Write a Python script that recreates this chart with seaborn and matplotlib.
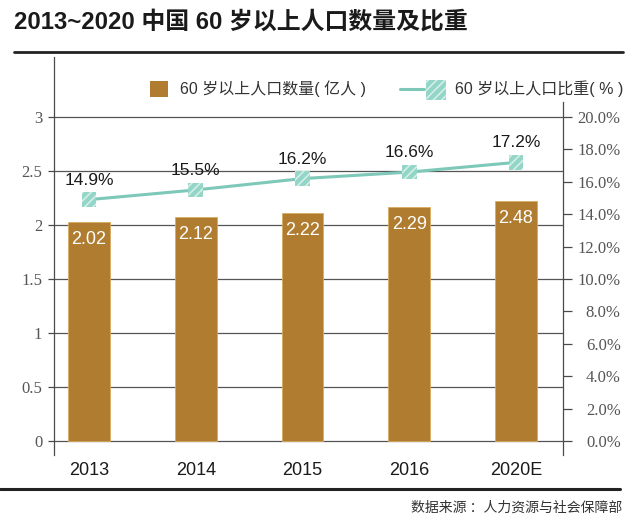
import numpy as np
import pandas as pd
import matplotlib
matplotlib.use("Agg")
import matplotlib.pyplot as plt
import seaborn as sns
from matplotlib.patches import Patch
from matplotlib.lines import Line2D
from matplotlib.legend_handler import HandlerTuple

# ---------------- data ----------------
years = ["2013", "2014", "2015", "2016", "2020E"]
bar_heights = [2.03, 2.07, 2.11, 2.17, 2.22]          # drawn bar heights (亿人)
bar_labels = ["2.02", "2.12", "2.22", "2.29", "2.48"]  # printed labels
share_pct = [14.9, 15.5, 16.2, 16.6, 17.2]            # 比重 (%)
share_labels = ["14.9%", "15.5%", "16.2%", "16.6%", "17.2%"]
left_ticks = [0, 0.5, 1, 1.5, 2, 2.5, 3]
left_tick_labels = ["0", "0.5", "1", "1.5", "2", "2.5", "3"]
right_ticks = [0, 2, 4, 6, 8, 10, 12, 14, 16, 18, 20]
right_tick_labels = ["0.0%", "2.0%", "4.0%", "6.0%", "8.0%", "10.0%",
                     "12.0%", "14.0%", "16.0%", "18.0%", "20.0%"]
title = "2013~2020 中国 60 岁以上人口数量及比重"
legend_bar = "60 岁以上人口数量( 亿人 )"
legend_line = "60 岁以上人口比重( % )"
source = "数据来源 ：人力资源与社会保障部"

bar_color = "#AF7C30"
line_color = "#7DC8B9"
marker_color = "#93D5C7"
axis_color = "#4a4a4a"

sns.set_theme(style="white")
plt.rcParams["font.family"] = ["Liberation Sans", "Noto Sans CJK SC", "DejaVu Sans"]
plt.rcParams["hatch.linewidth"] = 1.2

fig = plt.figure(figsize=(6.4, 5.28), dpi=100)
fig.patch.set_facecolor("white")
ax = fig.add_axes([54 / 640, 1 - 455 / 528, (563 - 54) / 640, (455 - 57) / 528])

df = pd.DataFrame({"year": years, "count": bar_heights})
sns.barplot(data=df, x="year", y="count", color=bar_color, saturation=1,
            width=0.39, ax=ax, edgecolor="#D8AC62", linewidth=0.6, zorder=2)

ymin, ymax = -0.13, 3.556
ax.set_xlim(-0.328, 4.44)
ax.set_ylim(ymin, ymax)
ax.set_xlabel("")
ax.set_ylabel("")
ax.set_yticks(left_ticks)
ax.set_yticklabels(left_tick_labels, fontfamily="Liberation Serif", fontsize=12, color="#555555")
ax.tick_params(axis="y", length=4.5, width=0.9, color=axis_color, pad=4, left=True)
ax.tick_params(axis="x", length=0, pad=5, labelsize=13, labelcolor="#1a1a1a")
ax.grid(axis="y", color="#555555", linewidth=0.9)
ax.grid(axis="x", visible=False)
ax.set_axisbelow(True)
for s in ["top", "bottom", "right"]:
    ax.spines[s].set_visible(False)
ax.spines["left"].set_color(axis_color)
ax.spines["left"].set_linewidth(0.9)

for i, (h, lab) in enumerate(zip(bar_heights, bar_labels)):
    ax.annotate(lab, (i, h), xytext=(0, -12.5), textcoords="offset points",
                ha="center", va="center", color="white", fontsize=13, zorder=5)

# ---------------- secondary axis ----------------
ax2 = ax.twinx()
pos = np.arange(len(years))
sns.lineplot(x=pos, y=share_pct, ax=ax2, color=line_color, linewidth=2.2, zorder=3)
sc = ax2.scatter(pos, share_pct, marker="s", s=110, facecolor=marker_color,
                 edgecolor="#D2F0E9", linewidth=0, hatch="////", zorder=4)
ax2.set_ylim(ymin * 20 / 3, ymax * 20 / 3)
ax2.set_xlim(-0.328, 4.44)
ax2.set_yticks(right_ticks)
ax2.set_yticklabels(right_tick_labels, fontfamily="Liberation Serif", fontsize=12,
                    color="#555555", ha="right")
ax2.tick_params(axis="y", length=6.5, width=0.9, color=axis_color, pad=35, right=True)
ax2.set_ylabel("")
for s in ["top", "bottom", "left"]:
    ax2.spines[s].set_visible(False)
ax2.spines["right"].set_color(axis_color)
ax2.spines["right"].set_linewidth(0.9)
ax2.spines["right"].set_bounds(ymin * 20 / 3, 20.9)
ax2.grid(False)

for i, (p, lab) in enumerate(zip(share_pct, share_labels)):
    ax2.annotate(lab, (i, p), xytext=(0, 14), textcoords="offset points",
                 ha="center", va="center", color="#1a1a1a", fontsize=12.5, zorder=5)

# ---------------- legends ----------------
ly = 1 - 89 / 528
leg1 = fig.legend([Patch(facecolor=bar_color, edgecolor="none")], [legend_bar],
                  loc="center left", bbox_to_anchor=(150 / 640, ly), frameon=False,
                  borderpad=0, borderaxespad=0, handlelength=1.15, handleheight=1.15,
                  handletextpad=0.7, fontsize=11.5, labelcolor="#333333")
lh = Line2D([], [], color=line_color, linewidth=2.2)
leg2 = fig.legend([(lh, sc)], [legend_line], handler_map={tuple: HandlerTuple(ndivide=None)},
                  loc="center left", bbox_to_anchor=(400 / 640, ly), frameon=False,
                  borderpad=0, borderaxespad=0, handlelength=3.0, handletextpad=0.45,
                  fontsize=11.5, labelcolor="#333333", scatterpoints=1, markerscale=1.35)

# ---------------- title, rules, source ----------------
fig.text(14 / 640, 1 - 22 / 528, title, fontsize=17.2, fontweight="bold",
         ha="left", va="center", color="#1a1a1a")
fig.add_artist(Line2D([14 / 640, 623 / 640], [1 - 52 / 528, 1 - 52 / 528],
                      transform=fig.transFigure, color="#222222", linewidth=2))
fig.add_artist(Line2D([0, 620 / 640], [1 - 489 / 528, 1 - 489 / 528],
                      transform=fig.transFigure, color="#222222", linewidth=2.2))
fig.text(622 / 640, 1 - 508 / 528, source, fontsize=10, ha="right", va="center",
         color="#333333", family=["Noto Sans CJK SC", "DejaVu Sans"])

fig.savefig("out.png", dpi=100)
